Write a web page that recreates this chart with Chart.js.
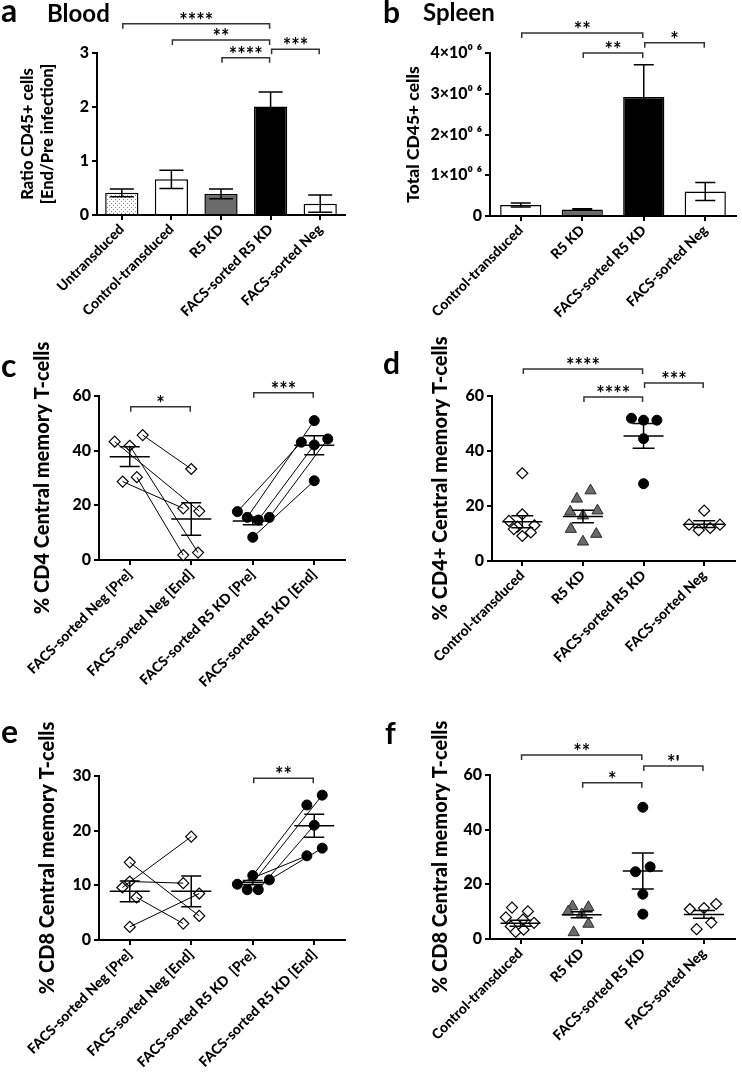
<!DOCTYPE html>
<html>
<head>
<meta charset="utf-8">
<script src="https://cdn.jsdelivr.net/npm/chart.js@4.4.1/dist/chart.umd.min.js"></script>
<style>
  body { margin: 0; background: #fff; width: 742px; height: 1074px; position: relative; overflow: hidden; font-family: Lato, "Open Sans", sans-serif; }
  canvas { position: absolute; }
  .lbl { position: absolute; font-weight: bold; color: #000; line-height: 1; white-space: nowrap; }
</style>
</head>
<body>
<canvas id="ca" width="371" height="352" style="left:0;top:0"></canvas>
<canvas id="cb" width="371" height="352" style="left:371px;top:0"></canvas>
<canvas id="cc" width="371" height="394" style="left:0;top:326px"></canvas>
<canvas id="cd" width="371" height="394" style="left:371px;top:326px"></canvas>
<canvas id="ce" width="371" height="354" style="left:0;top:720px"></canvas>
<canvas id="cf" width="371" height="354" style="left:371px;top:720px"></canvas>

<div class="lbl" style="left:1px;top:-6px;font-size:32px">a</div>
<div class="lbl" style="left:47px;top:1px;font-size:24px">Blood</div>
<div class="lbl" style="left:383px;top:-4px;font-size:30px">b</div>
<div class="lbl" style="left:423px;top:0px;font-size:24px">Spleen</div>
<div class="lbl" style="left:1px;top:349px;font-size:32px">c</div>
<div class="lbl" style="left:383px;top:347px;font-size:30px">d</div>
<div class="lbl" style="left:1px;top:715px;font-size:32px">e</div>
<div class="lbl" style="left:385px;top:717px;font-size:30px">f</div>

<script>
// ---- a: Blood ratio ----
const catsA = ['Untransduced', 'Control-transduced', 'R5 KD', 'FACS-sorted R5 KD', 'FACS-sorted Neg'];
const meanA = [0.41, 0.66, 0.39, 2.01, 0.21];
const semA = [0.07, 0.17, 0.09, 0.27, 0.16];
const sigA = [[0, 3, 3.54, '****'], [1, 3, 3.24, '**'], [2, 3, 2.91, '****'], [3, 4, 3.07, '***']];

// ---- b: Spleen total ----
const catsB = ['Control-transduced', 'R5 KD', 'FACS-sorted R5 KD', 'FACS-sorted Neg'];
const meanB = [0.27e6, 0.16e6, 2.92e6, 0.60e6];
const semB = [0.05e6, 0.02e6, 0.79e6, 0.22e6];
const ticksB = ['0', '1×10⁰ ⁶', '2×10⁰ ⁶', '3×10⁰ ⁶', '4×10⁰ ⁶'];
const sigB = [[0, 2, 4.49e6, '**'], [1, 2, 4.0e6, '**'], [2, 3, 4.25e6, '*']];

// ---- c: CD4 CM paired ----
const catsC = ['FACS-sorted Neg [Pre]', 'FACS-sorted Neg [End]', 'FACS-sorted R5 KD [Pre]', 'FACS-sorted R5 KD [End]'];
const negPreC = [45.7, 43.3, 41.8, 30.3, 28.7];
const negEndC = [33.3, 17.9, 2.7, 1.8, 18.9];
const r5PreC = [17.7, 15.6, 14.6, 15.6, 8.3];
const r5EndC = [43.1, 51.0, 42.1, 44.3, 29.0];
const meanC = [37.8, 15.0, 14.3, 42.0];
const semC = [3.6, 5.9, 1.4, 3.5];
const sigC = [[0, 1, 56.1, '*'], [2, 3, 61.2, '***']];
// sideways scatter of symbols inside a column (category units)
const jNegPreC = [0.21, -0.245, 0, 0.115, -0.115];
const jNegEndC = [0, 0.13, 0.11, -0.13, -0.13];
const jR5PreC = [-0.25, -0.09, 0.09, 0.27, 0];
const jR5EndC = [-0.21, 0, 0, 0.22, 0];

// ---- d: CD4+ CM spleen ----
const catsD = ['Control-transduced', 'R5 KD', 'FACS-sorted R5 KD', 'FACS-sorted Neg'];
const ctrlD = [31.9, 17.0, 14.6, 13.0, 12.5, 11.6, 10.4, 9.1];
const r5D = [22.6, 25.6, 17.9, 18.3, 16.5, 11.6, 9.8, 7.0];
const facsD = [51.9, 51.2, 51.2, 44.5, 28.1];
const negD = [18.3, 13.2, 13.2, 11.2, 12.0];
const meanD = [14.3, 16.2, 45.5, 13.4];
const semD = [2.2, 2.3, 4.5, 1.2];
const sigD = [[0, 2, 69.8, '****'], [1, 2, 59.6, '****'], [2, 3, 64.7, '***']];
const jCtrlD = [0, 0, -0.22, 0.2, -0.08, -0.14, 0.14, 0];
const jR5D = [-0.1, 0.125, -0.21, 0.24, 0, -0.2, 0.22, 0];
const jFacsD = [-0.2, 0, 0.22, 0, 0];
const jNegD = [0, -0.25, 0.26, -0.09, 0.1];

// ---- e: CD8 CM paired ----
const catsE = ['FACS-sorted Neg [Pre]', 'FACS-sorted Neg [End]', 'FACS-sorted R5 KD  [Pre]', 'FACS-sorted R5 KD [End]'];
const negPreE = [14.2, 10.7, 9.6, 7.8, 2.4];
const negEndE = [4.4, 10.4, 18.9, 3.0, 8.5];
const r5PreE = [10.2, 11.8, 9.2, 9.2, 11.0];
const r5EndE = [15.4, 24.7, 26.5, 21.0, 16.8];
const meanE = [8.9, 8.9, 10.5, 20.9];
const semE = [1.9, 2.8, 0.4, 2.1];
const sigE = [[2, 3, 29.6, '**']];
const jNegPreE = [0, 0, -0.12, 0.11, 0];
const jNegEndE = [0.13, -0.13, 0, -0.13, 0.13];
const jR5PreE = [-0.25, 0, -0.09, 0.09, 0.27];
const jR5EndE = [-0.12, -0.12, 0.13, 0, 0.13];

// ---- f: CD8 CM spleen ----
const catsF = ['Control-transduced', 'R5 KD', 'FACS-sorted R5 KD', 'FACS-sorted Neg'];
const ctrlF = [11.5, 10.1, 7.9, 7.1, 5.9, 4.6, 2.6, 3.4];
const r5F = [11.9, 11.6, 10.0, 9.0, 5.5, 2.4];
const facsF = [48.2, 26.4, 24.6, 16.4, 9.1];
const negF = [10.9, 11.3, 12.8, 3.6, 6.0];
const meanF = [5.8, 8.9, 24.9, 9.0];
const semF = [1.1, 1.1, 6.6, 1.4];
const sigF = [[0, 2, 67.3, '**'], [1, 2, 57.2, '*'], [2, 3, 63.3, "*'"]];
const jCtrlF = [-0.14, 0.12, -0.24, 0.04, 0.22, -0.16, -0.08, 0.05];
const jR5F = [-0.15, 0.11, -0.22, 0, 0.11, -0.13];
const jFacsF = [0, 0.12, -0.12, 0, 0];
const jNegF = [-0.23, 0, 0.2, -0.12, 0.12];

Chart.defaults.font.family = 'Lato, "Open Sans", sans-serif';
Chart.defaults.color = '#000';
Chart.defaults.animation = false;
Chart.defaults.plugins.legend.display = false;
Chart.defaults.plugins.tooltip.enabled = false;

const tickFont = { size: 16, weight: '900' };
const catFont = { size: 14, weight: '900' };
const barTitleFont = { size: 16.5, weight: '900', lineHeight: 1.25 };
const dotTitleFont = { size: 20, weight: '900', lineHeight: 1.25 };

// error bars, mean lines and significance brackets
function decor(stats, sig, capHalf, meanHalf) {
  return {
    id: 'decor',
    afterDatasetsDraw(chart) {
      const { ctx, scales: { x, y } } = chart;
      ctx.save();
      ctx.strokeStyle = '#000';
      ctx.lineWidth = 1.5;
      stats.means.forEach((m, i) => {
        const px = x.getPixelForValue(i);
        const top = y.getPixelForValue(m + stats.sems[i]);
        const bot = y.getPixelForValue(m - stats.sems[i]);
        ctx.beginPath();
        ctx.moveTo(px, top); ctx.lineTo(px, bot);
        ctx.moveTo(px - capHalf, top); ctx.lineTo(px + capHalf, top);
        ctx.moveTo(px - capHalf, bot); ctx.lineTo(px + capHalf, bot);
        if (meanHalf) {
          const my = y.getPixelForValue(m);
          ctx.moveTo(px - meanHalf, my); ctx.lineTo(px + meanHalf, my);
        }
        ctx.stroke();
      });
      ctx.strokeStyle = '#333';
      ctx.fillStyle = '#000';
      ctx.font = 'bold 20px Lato, sans-serif';
      ctx.textAlign = 'center';
      ctx.textBaseline = 'alphabetic';
      sig.forEach(([a, b, lvl, txt]) => {
        const x1 = x.getPixelForValue(a) + 1, x2 = x.getPixelForValue(b) - 1;
        const py = y.getPixelForValue(lvl);
        ctx.beginPath();
        ctx.moveTo(x1, py + 5); ctx.lineTo(x1, py); ctx.lineTo(x2, py); ctx.lineTo(x2, py + 5);
        ctx.stroke();
        ctx.fillText(txt, (x1 + x2) / 2, py + 4);
      });
      ctx.restore();
    }
  };
}

function axisY(max, step, title, titleFont, titlePad, width, cb) {
  const ax = {
    min: 0, max: max,
    afterFit: s => { s.width = width; s.paddingTop = 0; s.paddingBottom = 0; },
    ticks: { stepSize: step, font: tickFont, padding: 3 },
    grid: { drawOnChartArea: false, color: '#000', lineWidth: 2, tickLength: 5 },
    border: { color: '#000', width: 2 },
    title: { display: true, text: title, font: titleFont, padding: { top: titlePad, bottom: 0 } }
  };
  if (cb) ax.ticks.callback = cb;
  return ax;
}

function axisXCat(height) {
  return {
    afterFit: s => { s.height = height; s.paddingLeft = 0; s.paddingRight = 0; },
    ticks: { autoSkip: false, minRotation: 45, maxRotation: 45, font: catFont, padding: 1 },
    grid: { offset: false, drawOnChartArea: false, color: '#000', lineWidth: 2, tickLength: 5 },
    border: { color: '#000', width: 2 }
  };
}

function axisXLin(cats, height) {
  return {
    type: 'linear', min: -0.5, max: cats.length - 0.5,
    afterBuildTicks: s => { s.ticks = cats.map((_, i) => ({ value: i })); },
    afterFit: s => { s.height = height; s.paddingLeft = 0; s.paddingRight = 0; },
    ticks: { autoSkip: false, minRotation: 45, maxRotation: 45, font: catFont, padding: 1, callback: v => cats[v] },
    grid: { drawOnChartArea: false, color: '#000', lineWidth: 2, tickLength: 5 },
    border: { color: '#000', width: 2 }
  };
}

function dots() {
  const c = document.createElement('canvas');
  c.width = 4; c.height = 4;
  const g = c.getContext('2d');
  g.fillStyle = '#fff'; g.fillRect(0, 0, 4, 4);
  g.fillStyle = '#8a8a8a'; g.fillRect(1, 1, 1, 1); g.fillRect(3, 3, 1, 1);
  return g.createPattern(c, 'repeat');
}

const diamond = { pointStyle: 'rectRot', pointRadius: 5.5, pointBackgroundColor: '#fff', pointBorderColor: '#000', pointBorderWidth: 1.2 };
const disc = { pointStyle: 'circle', pointRadius: 5, pointBackgroundColor: '#000', pointBorderColor: '#000', pointBorderWidth: 1 };
const tri = { pointStyle: 'triangle', pointRadius: 6.5, pointBackgroundColor: '#6b6b6b', pointBorderColor: '#2a2a2a', pointBorderWidth: 1 };

function pairLines(pre, end, jPre, jEnd, x0) {
  return pre.map((v, i) => ({
    data: [{ x: x0 + jPre[i], y: v }, { x: x0 + 1 + jEnd[i], y: end[i] }],
    showLine: true, borderColor: '#000', borderWidth: 1, pointRadius: 0, clip: false
  }));
}

function group(vals, jit, x0, style) {
  return Object.assign({ data: vals.map((v, i) => ({ x: x0 + jit[i], y: v })), showLine: false, clip: false }, style);
}

// a
new Chart(document.getElementById('ca'), {
  type: 'bar',
  data: { labels: catsA, datasets: [{
    data: meanA, backgroundColor: [dots(), '#fff', '#6b6b6b', '#000', '#fff'],
    borderColor: '#000', borderWidth: 1.5, categoryPercentage: 1, barPercentage: 0.67
  }] },
  options: {
    responsive: false,
    layout: { padding: { top: 53, right: 26, left: 0, bottom: 0 } },
    scales: { x: axisXCat(352 - 215), y: axisY(3, 1, ['Ratio CD45+ cells', '[End/Pre infection]'], barTitleFont, 17, 97) }
  },
  plugins: [decor({ means: meanA, sems: semA }, sigA, 12, 0)]
});

// b
new Chart(document.getElementById('cb'), {
  type: 'bar',
  data: { labels: catsB, datasets: [{
    data: meanB, backgroundColor: ['#fff', '#6b6b6b', '#000', '#fff'],
    borderColor: '#000', borderWidth: 1.5, categoryPercentage: 1, barPercentage: 0.67
  }] },
  options: {
    responsive: false,
    layout: { padding: { top: 53, right: 6, left: 0, bottom: 0 } },
    scales: { x: axisXCat(352 - 216), y: axisY(4e6, 1e6, 'Total CD45+ cells', { size: 17.5, weight: '900', lineHeight: 1.25 }, 31, 119, v => ticksB[Math.round(v / 1e6)]) }
  },
  plugins: [decor({ means: meanB, sems: semB }, sigB, 10, 0)]
});

// c
new Chart(document.getElementById('cc'), {
  type: 'scatter',
  data: { datasets: [
    ...pairLines(negPreC, negEndC, jNegPreC, jNegEndC, 0),
    ...pairLines(r5PreC, r5EndC, jR5PreC, jR5EndC, 2),
    group(negPreC, jNegPreC, 0, diamond), group(negEndC, jNegEndC, 1, diamond),
    group(r5PreC, jR5PreC, 2, disc), group(r5EndC, jR5EndC, 3, disc)
  ] },
  options: {
    responsive: false,
    layout: { padding: { top: 70, right: 26, left: 0, bottom: 0 } },
    scales: { x: axisXLin(catsC, 720 - 560), y: axisY(60, 20, '% CD4 Central memory T-cells', dotTitleFont, 30, 99) }
  },
  plugins: [decor({ means: meanC, sems: semC }, sigC, 10, 20)]
});

// d
new Chart(document.getElementById('cd'), {
  type: 'scatter',
  data: { datasets: [
    group(ctrlD, jCtrlD, 0, diamond), group(r5D, jR5D, 1, tri),
    group(facsD, jFacsD, 2, disc), group(negD, jNegD, 3, diamond)
  ] },
  options: {
    responsive: false,
    layout: { padding: { top: 70, right: 4, left: 0, bottom: 0 } },
    scales: { x: axisXLin(catsD, 720 - 561), y: axisY(60, 20, '% CD4+ Central memory T-cells', dotTitleFont, 57, 121) }
  },
  plugins: [decor({ means: meanD, sems: semD }, sigD, 11, 20)]
});

// e
new Chart(document.getElementById('ce'), {
  type: 'scatter',
  data: { datasets: [
    ...pairLines(negPreE, negEndE, jNegPreE, jNegEndE, 0),
    ...pairLines(r5PreE, r5EndE, jR5PreE, jR5EndE, 2),
    group(negPreE, jNegPreE, 0, diamond), group(negEndE, jNegEndE, 1, diamond),
    group(r5PreE, jR5PreE, 2, disc), group(r5EndE, jR5EndE, 3, disc)
  ] },
  options: {
    responsive: false,
    layout: { padding: { top: 56, right: 26, left: 0, bottom: 0 } },
    scales: { x: axisXLin(catsE, 354 - 220), y: axisY(30, 10, '% CD8 Central memory T-cells', dotTitleFont, 35, 99) }
  },
  plugins: [decor({ means: meanE, sems: semE }, sigE, 10, 20)]
});

// f
new Chart(document.getElementById('cf'), {
  type: 'scatter',
  data: { datasets: [
    group(ctrlF, jCtrlF, 0, diamond), group(r5F, jR5F, 1, tri),
    group(facsF, jFacsF, 2, disc), group(negF, jNegF, 3, diamond)
  ] },
  options: {
    responsive: false,
    layout: { padding: { top: 55, right: 5, left: 0, bottom: 0 } },
    scales: { x: axisXLin(catsF, 354 - 219), y: axisY(60, 20, '% CD8 Central memory T-cells', dotTitleFont, 57, 119) }
  },
  plugins: [decor({ means: meanF, sems: semF }, sigF, 11, 20)]
});
</script>
</body>
</html>
